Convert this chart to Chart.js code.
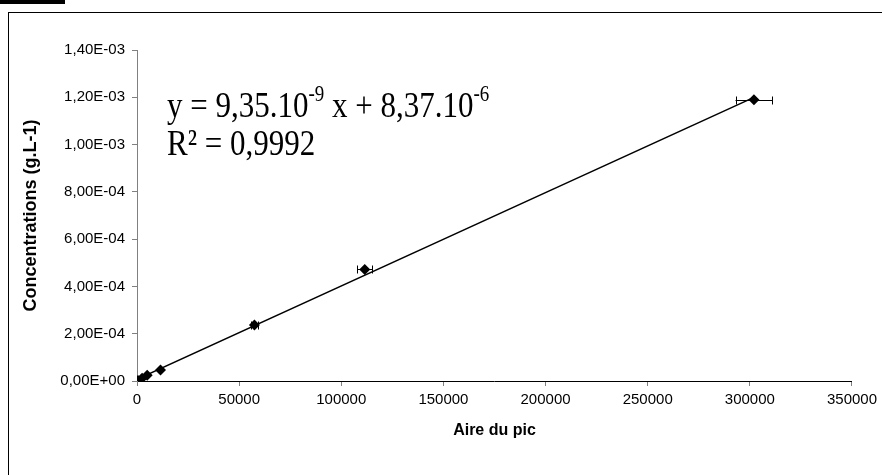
<!DOCTYPE html>
<html>
<head>
<meta charset="utf-8">
<script src="https://cdn.jsdelivr.net/npm/chart.js@4.4.0/dist/chart.umd.min.js"></script>
<style>
    html, body { margin: 0; padding: 0; background: #fff; }
    #wrap { position: relative; width: 882px; height: 475px; overflow: hidden; }
    #frame { position: absolute; left: 8px; top: 12px; width: 900px; height: 500px; border-left: 1px solid #000; border-top: 1px solid #000; }
    #tab { position: absolute; left: 0; top: 0; width: 65px; height: 4px; background: #000; }
    canvas { position: absolute; left: 0; top: 0; }
</style>
</head>
<body>
<div id="wrap">
    <div id="frame"></div>
    <div id="tab"></div>
    <canvas id="calib" width="882" height="475"></canvas>
</div>
<script>
// Calibration data (peak area vs concentration)
const peakArea = [500, 2500, 5000, 11500, 57500, 111500, 302000];
const concentration = [2.4e-6, 1.2e-5, 2.4e-5, 4.7e-5, 2.37e-4, 4.72e-4, 1.19e-3];
const areaError = [0, 0, 0, 0, 1500, 3700, 9000];

const xTicks = [0, 50000, 100000, 150000, 200000, 250000, 300000, 350000];
const yTicks = [0, 2e-4, 4e-4, 6e-4, 8e-4, 1e-3, 1.2e-3, 1.4e-3];

const equationText = ['y = 9,35.10', '-9', ' x + 8,37.10', '-6'];
const r2Text = 'R² = 0,9992';

// Least-squares trend line over the data range
function trendLine(xs, ys) {
    const n = xs.length;
    const mx = xs.reduce((a, b) => a + b, 0) / n;
    const my = ys.reduce((a, b) => a + b, 0) / n;
    let sxy = 0, sxx = 0;
    xs.forEach((x, i) => { sxy += (x - mx) * (ys[i] - my); sxx += (x - mx) * (x - mx); });
    const slope = sxy / sxx;
    const icpt = my - slope * mx;
    const x0 = 0, x1 = Math.max(...xs);
    return [{ x: x0, y: icpt + slope * x0 }, { x: x1, y: icpt + slope * x1 }];
}

function sciLabel(v) {
    const [m, e] = Number(v).toExponential(2).split('e');
    const sign = e[0] === '-' ? '-' : '+';
    const exp = String(Math.abs(parseInt(e, 10))).padStart(2, '0');
    return m.replace('.', ',') + 'E' + sign + exp;
}

// Horizontal error bars
const errorBars = {
    id: 'errorBars',
    afterDatasetsDraw(chart) {
        const { ctx, scales: { x, y } } = chart;
        ctx.save();
        ctx.strokeStyle = '#000';
        ctx.lineWidth = 1;
        peakArea.forEach((v, i) => {
            if (!areaError[i]) return;
            const py = Math.round(y.getPixelForValue(concentration[i])) + 0.5;
            const xl = x.getPixelForValue(v - areaError[i]);
            const xr = x.getPixelForValue(v + areaError[i]);
            ctx.beginPath();
            ctx.moveTo(xl, py); ctx.lineTo(xr, py);
            ctx.moveTo(Math.round(xl) + 0.5, py - 4); ctx.lineTo(Math.round(xl) + 0.5, py + 4);
            ctx.moveTo(Math.round(xr) + 0.5, py - 4); ctx.lineTo(Math.round(xr) + 0.5, py + 4);
            ctx.stroke();
        });
        ctx.restore();
    }
};

// Equation label drawn in serif with superscripts (slightly tall, like the original)
const equationLabel = {
    id: 'equationLabel',
    afterDraw(chart) {
        const { ctx } = chart;
        const big = '31px "Liberation Serif", "Times New Roman", serif';
        const small = '19px "Liberation Serif", "Times New Roman", serif';
        const stretch = 1.18;
        ctx.save();
        ctx.fillStyle = '#000';
        ctx.textBaseline = 'alphabetic';
        let xPos = 167;
        const base = 117;
        equationText.forEach((part, i) => {
            const sup = i % 2 === 1;
            ctx.font = sup ? small : big;
            ctx.save();
            ctx.translate(xPos, sup ? base - 16 : base);
            ctx.scale(1, stretch);
            ctx.fillText(part, 0, 0);
            ctx.restore();
            xPos += ctx.measureText(part).width;
        });
        ctx.font = big;
        ctx.translate(167, 155);
        ctx.scale(1, stretch);
        ctx.fillText(r2Text, 0, 0);
        ctx.restore();
    }
};

const ctx = document.getElementById('calib').getContext('2d');
new Chart(ctx, {
    type: 'scatter',
    data: {
        datasets: [{
            label: 'Mesures',
            data: peakArea.map((v, i) => ({ x: v, y: concentration[i] })),
            pointStyle: 'rectRot',
            pointRadius: 5.5,
            backgroundColor: '#000',
            borderColor: '#000',
            borderWidth: 0,
            order: 1
        }, {
            label: 'Tendance',
            type: 'line',
            data: trendLine(peakArea, concentration),
            borderColor: '#000',
            borderWidth: 1.5,
            pointRadius: 0,
            fill: false,
            order: 2
        }]
    },
    options: {
        responsive: false,
        animation: false,
        layout: { padding: { top: 50, right: 29, left: 0, bottom: 0 } },
        plugins: {
            legend: { display: false },
            tooltip: { enabled: false }
        },
        scales: {
            x: {
                type: 'linear',
                min: 0,
                max: 350000,
                afterBuildTicks: s => { s.ticks = xTicks.map(v => ({ value: v })); },
                afterFit: s => { s.height = 94; },
                grid: { drawOnChartArea: false, drawTicks: true, tickLength: 5, color: '#808080' },
                border: { color: '#000', width: 1 },
                ticks: {
                    color: '#000',
                    padding: 5,
                    maxRotation: 0,
                    font: { family: '"Liberation Sans", Arial, sans-serif', size: 15 },
                    callback: v => String(v)
                },
                title: {
                    display: true,
                    text: 'Aire du pic',
                    color: '#000',
                    font: { family: '"Liberation Sans", Arial, sans-serif', size: 16, weight: 'bold' },
                    padding: { top: 0, bottom: 35 }
                }
            },
            y: {
                type: 'linear',
                min: 0,
                max: 1.4e-3,
                afterBuildTicks: s => { s.ticks = yTicks.map(v => ({ value: v })); },
                afterFit: s => { s.width = 137; },
                grid: { drawOnChartArea: false, drawTicks: true, tickLength: 5, color: '#808080' },
                border: { color: '#808080', width: 1 },
                ticks: {
                    color: '#000',
                    padding: 7,
                    font: { family: '"Liberation Sans", Arial, sans-serif', size: 15 },
                    callback: v => sciLabel(v)
                },
                title: {
                    display: true,
                    text: 'Concentrations (g.L-1)',
                    color: '#000',
                    font: { family: '"Liberation Sans", Arial, sans-serif', size: 18, weight: 'bold' },
                    padding: { top: 20, bottom: 0 }
                }
            }
        }
    },
    plugins: [errorBars, equationLabel]
});
</script>
</body>
</html>
